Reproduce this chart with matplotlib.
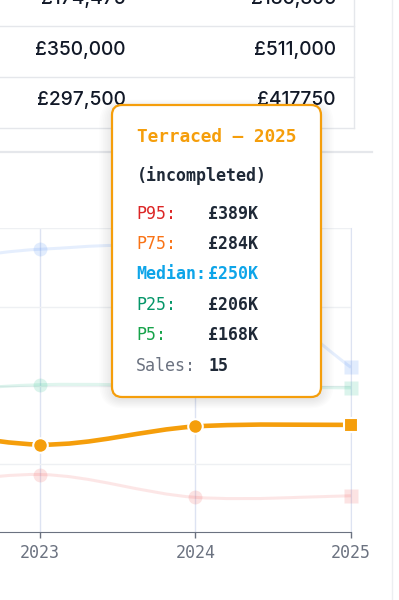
import numpy as np
import matplotlib.pyplot as plt
from matplotlib.path import Path
from matplotlib.patches import PathPatch, FancyBboxPatch

# ------------------------------------------------------------------
# data (median price, £K)
# ------------------------------------------------------------------
years = [2022, 2023, 2024, 2025]
detached = [445, 473, 462, 323]
semi = [288, 301, 299, 297]
terraced = [255, 225, 248, 250]
flat = [165, 187, 158, 160]

table_left = ["£174,475", "£350,000", "£297,500"]
table_right = ["£186,895", "£511,000", "£417750"]

tip_title = "Terraced – 2025"
tip_note = "(incompleted)"
tip_labels = ["P95:", "P75:", "Median:", "P25:", "P5:", "Sales:"]
tip_values = ["£389K", "£284K", "£250K", "£206K", "£168K", "15"]

ORANGE = "#f59e0b"
GRID = "#eef0f3"
MONO = "DejaVu Sans Mono"


def smooth_path(xs, ys, k=1 / 6.0):
    n = len(xs)
    verts = [(xs[0], ys[0])]
    codes = [Path.MOVETO]
    for i in range(n - 1):
        x0, y0 = xs[max(i - 1, 0)], ys[max(i - 1, 0)]
        x1, y1 = xs[i], ys[i]
        x2, y2 = xs[i + 1], ys[i + 1]
        x3, y3 = xs[min(i + 2, n - 1)], ys[min(i + 2, n - 1)]
        verts += [(x1 + (x2 - x0) * k, y1 + (y2 - y0) * k),
                  (x2 - (x3 - x1) * k, y2 - (y3 - y1) * k),
                  (x2, y2)]
        codes += [Path.CURVE4] * 3
    return Path(verts, codes)


fig = plt.figure(figsize=(3.99, 6.0), dpi=100)
fig.patch.set_facecolor("white")

# ------------------------------------------------------------------
# chart
# ------------------------------------------------------------------
ax = fig.add_axes([0, 68 / 600, 351 / 399, 304 / 600], zorder=1)
ax.set_xlim(2023 - 40 / 155.5, 2025)
ax.set_ylim(114, 500)
ax.set_yticks([200, 300, 400, 500])
ax.set_xticks([2023, 2024, 2025])
ax.tick_params(axis="y", left=False, labelleft=False)
ax.tick_params(axis="x", length=4, width=1, color="#6b7280", pad=5,
               labelsize=12, labelcolor="#6b7280")
for lab in ax.get_xticklabels():
    lab.set_fontfamily(MONO)
ax.grid(axis="y", color=GRID, lw=1)
ax.grid(axis="x", color="#dde3f2", lw=1)
ax.set_axisbelow(True)
for s in ["left", "top"]:
    ax.spines[s].set_visible(False)
ax.spines["right"].set_color("#dde3f2")
ax.spines["bottom"].set_color("#6b7280")

faded = [(detached, "#3b82f6"), (semi, "#10b981"), (flat, "#ef4444")]
for vals, col in faded:
    ax.add_patch(PathPatch(smooth_path(years, vals), fill=False, ec=col,
                           lw=2.2, alpha=0.13, zorder=2))
    ax.plot(years[1:-1], vals[1:-1], "o", ms=10, color=col, alpha=0.15,
            mec="none", zorder=3)
    ax.plot(years[-1:], vals[-1:], "s", ms=10, color=col, alpha=0.15,
            mec="none", zorder=3, clip_on=False)

ax.add_patch(PathPatch(smooth_path(years, terraced), fill=False, ec=ORANGE,
                       lw=3.3, zorder=4, capstyle="round"))
ax.plot(years[1:-1], terraced[1:-1], "o", ms=10.5, color=ORANGE, mec="white",
        mew=1.5, zorder=5)
ax.plot(years[-1:], terraced[-1:], "s", ms=10, color=ORANGE, mec="white",
        mew=1.5, zorder=5, clip_on=False)

# ------------------------------------------------------------------
# overlay: table, separators, tooltip (pixel coords)
# ------------------------------------------------------------------
ov = fig.add_axes([0, 0, 1, 1], zorder=5)
ov.set_xlim(0, 399)
ov.set_ylim(600, 0)
ov.axis("off")
ov.patch.set_alpha(0)

for y in [26, 77, 128]:
    ov.plot([0, 354], [y, y], color="#e5e7eb", lw=1)
ov.plot([354, 354], [0, 128], color="#e5e7eb", lw=1)
ov.plot([0, 372], [152, 152], color="#e5e7eb", lw=1.6)
ov.plot([392, 392], [0, 600], color="#eceef1", lw=1)

row_y = [-1, 50, 100]
for y, a, b in zip(row_y, table_left, table_right):
    ov.text(126, y, a, ha="right", va="center", fontsize=13.8,
            family="Inter", weight="medium", color="#111827")
    ov.text(336, y, b, ha="right", va="center", fontsize=13.8,
            family="Inter", weight="medium", color="#111827")

# tooltip shadow
bx, by, bw, bh = 112, 105, 209, 292
for i in range(8):
    ov.add_patch(FancyBboxPatch((bx - i * 1.8, by - i * 1.2 + 3), bw + i * 3.6,
                                bh + i * 2.4, boxstyle="round,pad=0,rounding_size=%d" % (10 + i * 2),
                                fc="black", ec="none", alpha=0.012, zorder=6))
ov.add_patch(FancyBboxPatch((bx, by), bw, bh,
                            boxstyle="round,pad=0,rounding_size=10",
                            fc="white", ec=ORANGE, lw=1.6, zorder=7))

ov.text(137, 137, tip_title, ha="left", va="center", fontsize=12.8,
        family=MONO, weight="bold", color=ORANGE, zorder=8)
ov.text(137, 176, tip_note, ha="left", va="center", fontsize=12,
        family=MONO, weight="bold", color="#1f2937", zorder=8)

lab_cols = ["#dc2626", "#f97316", "#0ea5e9", "#059669", "#16a34a", "#6b7280"]
lab_wts = ["normal", "normal", "bold", "normal", "normal", "normal"]
val_cols = ["#1f2937", "#1f2937", "#0ea5e9", "#1f2937", "#1f2937", "#1f2937"]
tip_y = [214, 244, 274, 305, 335, 366]
for y, lab, val, lc, lw_, vc in zip(tip_y, tip_labels, tip_values,
                                    lab_cols, lab_wts, val_cols):
    ov.text(136, y, lab, ha="left", va="center", fontsize=12, family=MONO,
            weight=lw_, color=lc, zorder=8)
    ov.text(208, y, val, ha="left", va="center", fontsize=12, family=MONO,
            weight="bold", color=vc, zorder=8)

fig.savefig("out.png", dpi=100)
